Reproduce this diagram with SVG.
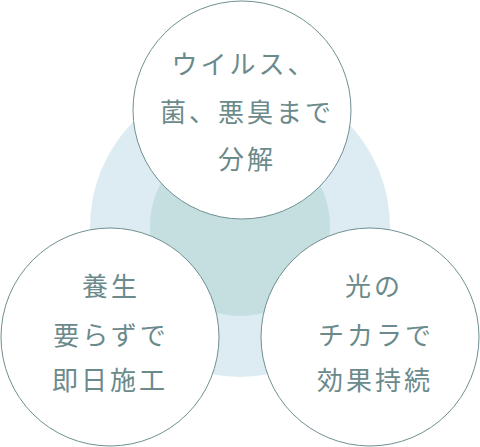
<svg xmlns="http://www.w3.org/2000/svg" width="480" height="447" viewBox="0 0 480 447">
<style>
.node{fill:#ffffff;stroke:#6f8f90;stroke-width:1}
.t{font-family:"Noto Sans CJK JP","Noto Sans CJK SC",sans-serif;font-size:26px;fill:#6b8a8b;text-anchor:middle;letter-spacing:3px}
</style>
<g id="background">
<circle cx="240" cy="227" r="150" fill="#dcecf2"/>
<circle cx="240" cy="226" r="90" fill="#c5dfe0"/>
</g>
<g id="connectors"></g>
<g id="node-top">
<circle class="node" cx="242" cy="110" r="109"/>
<text class="t" x="244" y="74">ウイルス、</text>
<text class="t" x="247" y="122">菌、悪臭まで</text>
<text class="t" x="247" y="169">分解</text>
</g>
<g id="node-left">
<circle class="node" cx="110" cy="337" r="109"/>
<text class="t" x="111" y="296">養生</text>
<text class="t" x="111" y="345">要らずで</text>
<text class="t" x="110" y="390">即日施工</text>
</g>
<g id="node-right">
<circle class="node" cx="370" cy="337" r="109"/>
<text class="t" x="374" y="296">光の</text>
<text class="t" x="376" y="345">チカラで</text>
<text class="t" x="375" y="390">効果持続</text>
</g>
</svg>
